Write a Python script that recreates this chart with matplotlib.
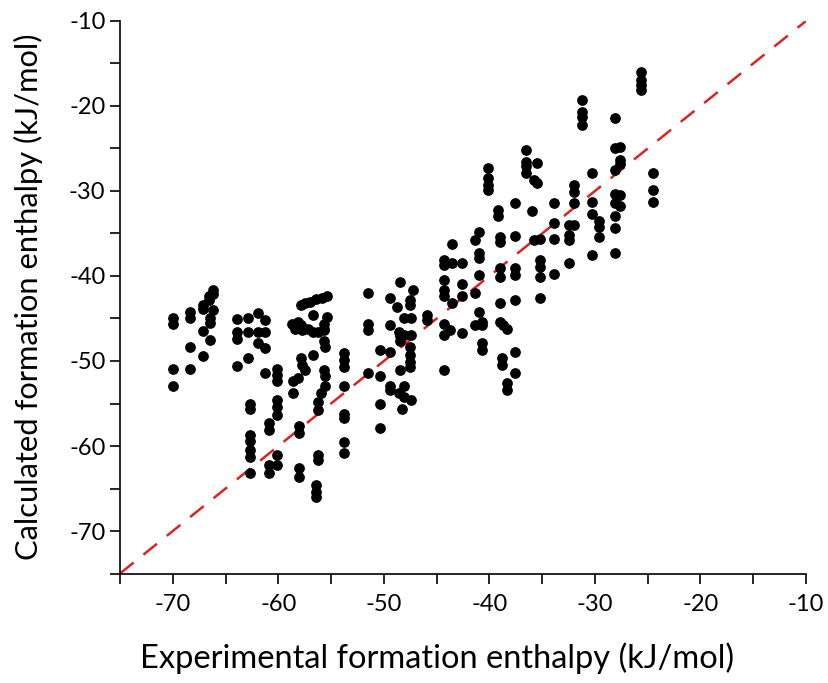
import numpy as np
import matplotlib.pyplot as plt

groups = [
    (-70.0, [-45.0, -45.6, -51.0, -52.9]),
    (-68.4, [-44.2, -44.9, -48.4, -51.0]),
    (-67.1, [-43.4, -43.9, -46.5, -49.4]),
    (-66.5, [-47.5, -44.9, -45.5]),
    (-66.6, [-42.4, -42.8]),
    (-66.2, [-41.6, -42.1, -44.0]),
    (-63.9, [-45.1, -46.6, -47.4, -50.6]),
    (-62.9, [-44.9, -46.6, -49.7]),
    (-62.7, [-55.0, -55.7, -58.7, -59.4, -60.5, -61.3, -63.2]),
    (-61.9, [-44.4, -46.6, -47.9]),
    (-61.3, [-45.2, -46.6, -48.5, -51.4]),
    (-60.9, [-57.3, -58.1, -62.2, -63.2]),
    (-60.1, [-50.9, -51.6, -52.4, -54.6, -55.4, -56.4, -61.1, -62.2]),
    (-58.7, [-45.6]),
    (-58.6, [-52.4, -53.8]),
    (-58.4, [-46.2]),
    (-58.1, [-52.0, -45.4]),
    (-58.0, [-57.7, -58.5, -62.6, -63.6]),
    (-57.9, [-49.6, -43.4, -45.8]),
    (-57.8, [-50.5, -46.4]),
    (-57.5, [-51.1, -43.2]),
    (-57.2, [-46.2]),
    (-57.0, [-43.1]),
    (-56.7, [-49.3, -46.6, -44.6]),
    (-56.4, [-42.7, -64.6, -65.4, -66.0]),
    (-56.2, [-46.6, -54.8, -55.8, -61.1, -61.6]),
    (-56.0, [-53.8]),
    (-55.9, [-42.6]),
    (-55.7, [-45.6, -46.2, -46.4, -47.7, -51.1]),
    (-55.6, [-48.3, -51.8, -53.0]),
    (-55.4, [-42.3, -44.8]),
    (-53.8, [-49.1, -49.9, -50.7, -53.0, -56.2, -56.7, -59.5, -60.8]),
    (-51.5, [-42.0, -45.6, -46.4, -51.4]),
    (-50.4, [-48.7, -51.8, -55.0, -57.9]),
    (-49.4, [-42.6, -45.8, -48.9, -53.0, -53.4]),
    (-48.8, [-43.6]),
    (-48.6, [-46.6, -53.8]),
    (-48.5, [-40.7, -47.1, -47.7, -51.1]),
    (-48.3, [-55.6]),
    (-48.1, [-45.0, -46.9, -53.0, -54.2]),
    (-47.5, [-42.8, -43.4, -48.3, -49.3, -50.1, -50.7]),
    (-47.4, [-45.0, -46.9, -54.6]),
    (-47.2, [-41.6]),
    (-45.9, [-44.6, -45.2]),
    (-44.3, [-38.1, -38.7, -40.5, -41.6, -42.4, -45.6, -46.9, -51.1]),
    (-43.7, [-46.4]),
    (-43.5, [-36.2, -38.5, -43.2]),
    (-42.6, [-38.5, -40.9, -42.4, -46.7]),
    (-41.4, [-35.8, -42.0, -45.8]),
    (-41.0, [-34.8, -37.3, -37.9, -39.9, -44.2]),
    (-40.7, [-45.4, -45.8, -47.9, -48.7]),
    (-40.1, [-27.3, -28.5, -29.3, -29.9]),
    (-39.2, [-32.2, -33.0]),
    (-39.0, [-35.4, -36.0, -39.1, -40.1, -43.2, -45.4]),
    (-38.8, [-49.7, -50.5]),
    (-38.7, [-45.8]),
    (-38.3, [-46.2, -52.6, -53.4]),
    (-37.6, [-31.4, -35.3, -39.1, -39.9, -42.8, -48.9, -51.4]),
    (-36.5, [-25.2, -26.6, -27.1, -27.9]),
    (-36.0, [-32.4]),
    (-35.8, [-28.7, -35.8]),
    (-35.5, [-26.7, -29.1]),
    (-35.2, [-35.6, -38.1, -38.9, -40.1, -42.6]),
    (-33.9, [-31.4, -33.8, -35.6, -39.8]),
    (-32.5, [-34.0, -35.2, -35.8, -38.5]),
    (-32.0, [-29.3, -30.1, -31.4, -34.0]),
    (-31.2, [-19.3, -20.7, -21.3, -22.2]),
    (-30.3, [-27.9, -31.3, -32.7, -37.5]),
    (-29.6, [-33.5, -34.2, -35.4]),
    (-28.1, [-21.4, -25.0, -27.5, -30.3, -31.4, -33.0, -34.4, -37.3]),
    (-27.6, [-24.8, -26.3, -26.8, -30.5, -31.8]),
    (-25.6, [-16.0, -16.9, -17.5, -18.1]),
    (-24.5, [-27.9, -29.9, -31.3]),
]

exp_vals = [gx for gx, ys in groups for _ in ys]
calc_vals = [y for gx, ys in groups for y in ys]

ticks = [-70, -60, -50, -40, -30, -20, -10]
lim = (-75, -10)

plt.rcParams['font.family'] = ['Lato', 'DejaVu Sans']
plt.rcParams['axes.unicode_minus'] = False

fig = plt.figure(figsize=(8.29, 6.83), dpi=100)
ax = fig.add_axes([0.1448, 0.1603, 0.8275, 0.809])

ax.plot(lim, lim, color='#dd2222', lw=1.8, ls=(0, (7, 5)), zorder=1)
ax.scatter(exp_vals, calc_vals, s=45, color='black', zorder=2)

ax.set_xlim(lim)
ax.set_ylim(lim)
ax.set_xticks(ticks)
ax.set_yticks(ticks)
ax.set_xticks(np.arange(-75, -9, 5), minor=True)
ax.set_yticks(np.arange(-75, -9, 5), minor=True)
ax.tick_params(which='both', direction='out', length=7, width=1.2, labelsize=17)
ax.tick_params(axis='x', pad=8)
for side in ['top', 'right']:
    ax.spines[side].set_visible(False)
for side in ['left', 'bottom']:
    ax.spines[side].set_linewidth(1.2)

ax.set_xlabel('Experimental formation enthalpy (kJ/mol)', fontsize=23.5)
ax.set_ylabel('Calculated formation enthalpy (kJ/mol)', fontsize=22.2)
ax.xaxis.set_label_coords(0.462, -0.125)
ax.yaxis.set_label_coords(-0.113, 0.5)

plt.savefig('out.png', dpi=100)
